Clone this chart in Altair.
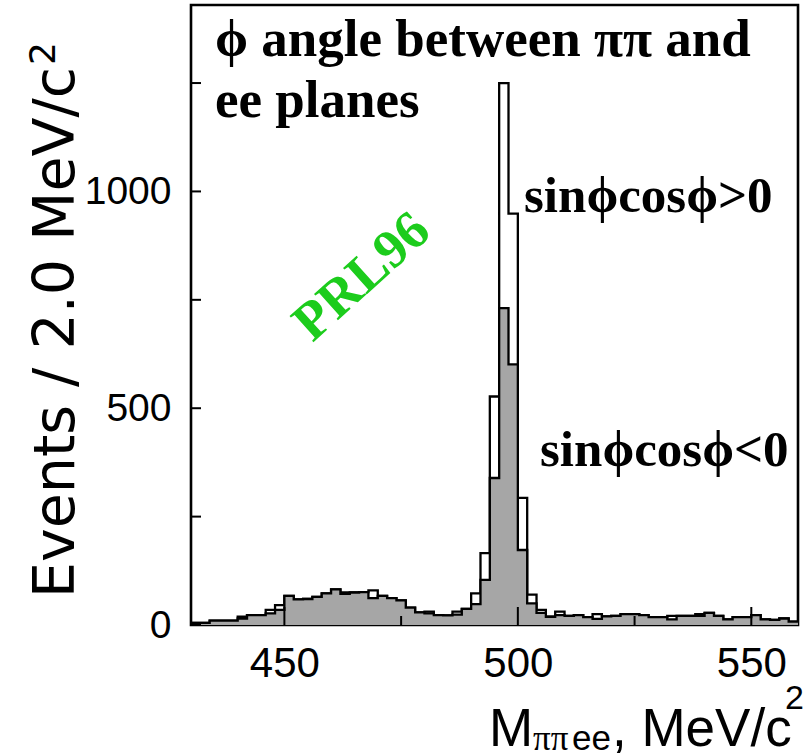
import altair as alt
import pandas as pd

# 2 MeV/c^2 bins of the pi+ pi- e+ e- invariant mass, left bin edges
bin_lo = list(range(430, 560, 2))

# events with sin(phi)cos(phi) > 0 (open histogram)
pos_counts = [5, 5, 10, 10, 10, 19, 23, 23, 35, 46,
              67, 59, 60, 65, 73, 82, 75, 75, 76, 80,
              67, 62, 57, 40, 29, 31, 23, 22, 31, 37,
              73, 166, 527, 1250, 949, 293, 70, 35, 19, 31,
              21, 23, 18, 25, 20, 21, 25, 25, 23, 18,
              18, 21, 21, 21, 25, 28, 21, 13, 18, 18,
              23, 13, 12, 15, 8]

# events with sin(phi)cos(phi) < 0 (shaded histogram)
neg_counts = [5, 5, 10, 10, 10, 15, 23, 23, 27, 35,
              67, 59, 60, 65, 73, 82, 72, 75, 76, 62,
              67, 62, 57, 40, 29, 27, 23, 22, 24, 37,
              48, 104, 339, 731, 601, 173, 50, 28, 19, 23,
              21, 23, 18, 14, 20, 21, 25, 25, 23, 18,
              18, 13, 21, 21, 21, 28, 21, 13, 18, 18,
              23, 13, 12, 15, 8]

y_major = [0, 500, 1000]
y_minor = [250, 750, 1250]
x_major = [450, 500, 550]
x_minor = [475, 525]

SANS = "Liberation Sans"
SERIF = "Liberation Serif"
PHI = "\u03d5"
W, H = 607, 620


def step_frame(counts):
    # close the step outline at the right edge of the last bin
    return pd.DataFrame({"m": bin_lo + [bin_lo[-1] + 2],
                         "n": counts + [counts[-1]]})


xs = alt.Scale(domain=[430, 560], nice=False, zero=False)
ys = alt.Scale(domain=[0, 1430], nice=False)

x_axis = alt.Axis(values=x_major, ticks=False, domain=False, grid=False,
                  labelFont=SANS, labelFontSize=42, labelColor="black",
                  labelPadding=18, title=None)
y_axis = alt.Axis(values=y_major, ticks=False, domain=False, grid=False,
                  format="d", labelFont=SANS, labelFontSize=39,
                  labelColor="black", labelPadding=20, title=None)


def hist(counts, fill):
    base = alt.Chart(step_frame(counts))
    area = base.mark_area(interpolate="step-after", color=fill).encode(
        x=alt.X("m:Q", scale=xs, axis=x_axis),
        y=alt.Y("n:Q", scale=ys, axis=y_axis),
    )
    line = base.mark_line(interpolate="step-after", color="black",
                          strokeWidth=2.3).encode(
        x=alt.X("m:Q", scale=xs),
        y=alt.Y("n:Q", scale=ys),
    )
    return area + line


def label(text, x, y, size, font=SERIF, weight="bold", color="black",
          angle=0, align="left", baseline="alphabetic"):
    return alt.Chart(pd.DataFrame({"t": [text]})).mark_text(
        font=font, fontSize=size, fontWeight=weight, color=color,
        angle=angle, align=align, baseline=baseline,
    ).encode(x=alt.value(x), y=alt.value(y), text="t:N")


# inward tick marks
y_ticks = alt.Chart(pd.DataFrame({"v": y_major + y_minor})).mark_rule(
    color="black", strokeWidth=2).encode(
    y=alt.Y("v:Q", scale=ys), x=alt.value(0), x2=alt.value(10))
x_ticks_major = alt.Chart(pd.DataFrame({"v": x_major})).mark_rule(
    color="black", strokeWidth=2).encode(
    x=alt.X("v:Q", scale=xs), y=alt.value(H), y2=alt.value(H - 18))
x_ticks_minor = alt.Chart(pd.DataFrame({"v": x_minor})).mark_rule(
    color="black", strokeWidth=2).encode(
    x=alt.X("v:Q", scale=xs), y=alt.value(H), y2=alt.value(H - 9))

texts = [
    label(PHI + " angle between ππ and", 24, 51, 53),
    label("ee planes", 24, 112, 53),
    label("sin" + PHI + "cos" + PHI + ">0", 333, 207, 51),
    label("sin" + PHI + "cos" + PHI + "<0", 349, 461, 51),
    label("PRL96", 171, 272, 54, color="#1ccc1c", angle=318,
          align="center", baseline="middle"),
    # y-axis title: Events / 2.0 MeV/c^2, read bottom to top
    label("Events / 2.0 MeV/c", -117, 62, 57, font="DejaVu Sans",
          weight="normal", angle=270, align="right"),
    label("2", -136, 60, 36, font="DejaVu Sans", weight="normal",
          angle=270, align="left"),
    # x-axis title: M_{ππee}, MeV/c^2
    label("M", 298, 741, 53, font=SANS, weight="normal"),
    label("ππ", 342, 745, 35, weight="normal"),
    label("ee", 381, 745, 35, font=SANS, weight="normal"),
    label(", MeV/c", 421, 741, 53, font=SANS, weight="normal"),
    label("2", 594, 704, 34, font=SANS, weight="normal"),
]

chart = alt.layer(
    hist(pos_counts, "white"),
    hist(neg_counts, "#a6a6a6"),
    y_ticks, x_ticks_major, x_ticks_minor,
    *texts,
).resolve_scale(x="shared", y="shared").properties(
    width=W, height=H,
    autosize=alt.AutoSizeParams(type="none"),
    padding={"left": 191, "top": 5, "right": 6, "bottom": 130},
    background="white",
).configure_view(stroke="black", strokeWidth=2.6)

chart.save("out.html", embed_options={"renderer": "svg", "actions": False})
